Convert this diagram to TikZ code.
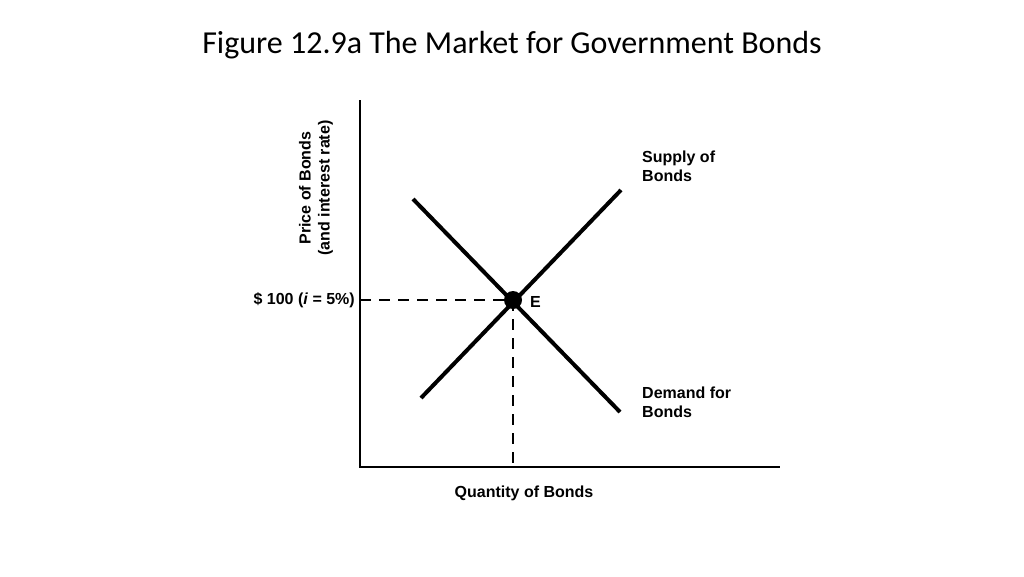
\documentclass[tikz,border=0pt]{standalone}
\usepackage{fontspec}
\setmainfont{Liberation Sans}
\newfontfamily\titlefont{Carlito}
\begin{document}
\begin{tikzpicture}[x=1pt,y=-1pt,
  lbl/.style={font=\bfseries\fontsize{16}{19}\selectfont,align=left,inner sep=0pt},
  curve/.style={line width=4pt},
  axis/.style={line width=2.2pt},
  guide/.style={line width=2.2pt,dash pattern=on 11pt off 8pt}]
\useasboundingbox (0,0) rectangle (1024,576);
\node (title) at (512,45) {\titlefont\fontsize{32}{38}\selectfont Figure 12.9a The Market for Government Bonds};
\coordinate (o) at (360,467);
\coordinate (ytop) at (360,100);
\coordinate (xend) at (780,467);
\draw[axis] (ytop) -- (o) -- (xend);
\coordinate (s1) at (421,398); \coordinate (s2) at (621,190);
\coordinate (d1) at (413,199); \coordinate (d2) at (620,412);
\draw[curve] (s1) -- (s2);
\draw[curve] (d1) -- (d2);
\coordinate (E) at (513,300);
\coordinate (yE) at (360,300);
\coordinate (xE) at (513,467);
\draw[guide] (yE) -- (E);
\draw[guide] (E) -- (xE);
\fill (E) circle (9);
\node[lbl,anchor=west] (elbl) at (530,302) {E};
\node[lbl,anchor=east] (plbl) at (355,300) {\$ 100 (\textit{i} = 5\%)};
\node[lbl,anchor=west] (slbl) at (642,166) {Supply of\\Bonds};
\node[lbl,anchor=west] (dlbl) at (642,402) {Demand for\\Bonds};
\node[lbl] (xlbl) at (524,493) {Quantity of Bonds};
\node[lbl,rotate=90,align=center] (ylbl) at (316,188) {Price of Bonds\\(and interest rate)};
\end{tikzpicture}
\end{document}
